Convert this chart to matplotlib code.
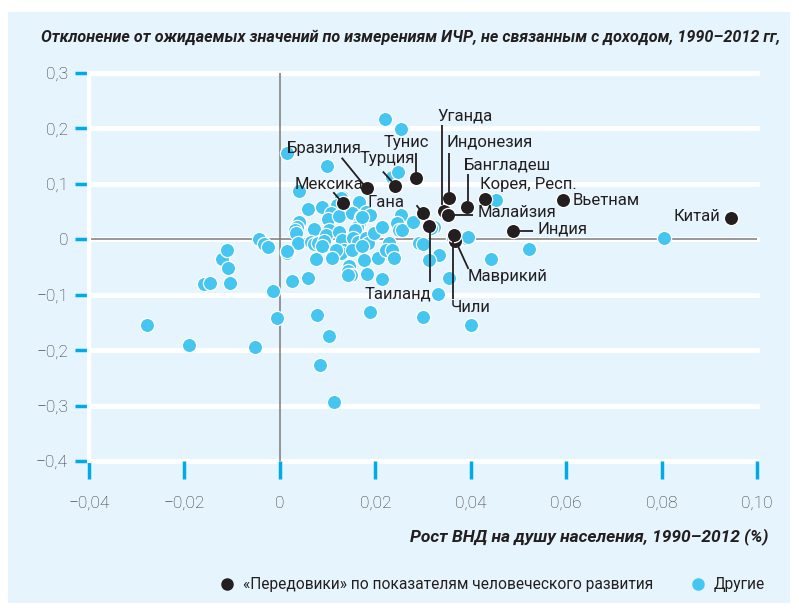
import matplotlib
matplotlib.use("Agg")
import numpy as np
import matplotlib.pyplot as plt
from matplotlib.lines import Line2D
from matplotlib.patches import Rectangle

# ---------------- data ----------------
leader_names = ["Бразилия", "Турция", "Тунис", "Мексика", "Гана", "Уганда",
                "Индонезия", "Бангладеш", "Корея, Респ.", "Малайзия", "Индия",
                "Вьетнам", "Китай", "Маврикий", "Чили", "Таиланд"]
leader_x = [0.0182, 0.0241, 0.0285, 0.0133, 0.0301, 0.0343,
            0.0355, 0.0393, 0.0429, 0.0352, 0.0489,
            0.0594, 0.0946, 0.0368, 0.0365, 0.0313]
leader_y = [0.093, 0.097, 0.110, 0.065, 0.047, 0.051,
            0.074, 0.059, 0.072, 0.044, 0.015,
            0.070, 0.039, -0.003, 0.008, 0.024]

other_x = [-0.0278, -0.0190, -0.0053, -0.0158, -0.0146, -0.0122, -0.0111, -0.0108,
           -0.0104, -0.0043, -0.0034, -0.0024, -0.0014, -0.0006, 0.0014, 0.0016,
           0.0025, 0.0040, 0.0040, 0.0035, 0.0031, 0.0033, 0.0037, 0.0016,
           0.0098, 0.0235, 0.0247, 0.0220, 0.0254, 0.0131, 0.0165, 0.0128,
           0.0119, 0.0058, 0.0088, 0.0107, 0.0100, 0.0124, 0.0152, 0.0170,
           0.0166, 0.0187, 0.0161, 0.0157, 0.0072, 0.0102, 0.0096, 0.0124,
           0.0065, 0.0072, 0.0080, 0.0093, 0.0089, 0.0130, 0.0154, 0.0164,
           0.0180, 0.0184, 0.0198, 0.0135, 0.0129, 0.0152, 0.0173, 0.0117,
           0.0075, 0.0145, 0.0142, 0.0149, 0.0177, 0.0182, 0.0205, 0.0058,
           0.0180, 0.0189, 0.0173, 0.0215, 0.0254, 0.0245, 0.0250, 0.0257,
           0.0278, 0.0229, 0.0222, 0.0236, 0.0240, 0.0292, 0.0299, 0.0334,
           0.0313, 0.0324, 0.0317, 0.0355, 0.0362, 0.0380, 0.0390, 0.0395,
           0.0443, 0.0522, 0.0805, 0.0453, 0.0077, 0.0103, 0.0084, 0.0114,
           0.0188, 0.0299, 0.0332, 0.0401, 0.0215, 0.0110, 0.0143]
other_y = [-0.154, -0.191, -0.194, -0.080, -0.078, -0.035, -0.020, -0.051,
           -0.078, 0.001, -0.008, -0.014, -0.093, -0.142, 0.156, -0.024,
           -0.075, 0.087, 0.032, 0.023, 0.017, 0.012, -0.007, -0.021,
           0.133, 0.113, 0.122, 0.217, 0.199, 0.077, 0.067, 0.074,
           0.062, 0.054, 0.058, 0.047, 0.036, 0.042, 0.047, 0.041,
           0.030, 0.044, 0.023, 0.017, 0.018, 0.017, 0.008, 0.014,
           -0.004, -0.009, -0.006, -0.003, -0.013, -0.001, 0.002, -0.004,
           0.002, -0.007, 0.011, -0.019, -0.024, -0.019, -0.013, -0.019,
           -0.036, -0.049, -0.058, -0.065, -0.038, -0.063, -0.033, -0.069,
           0.050, 0.044, 0.041, 0.023, 0.044, 0.029, 0.017, 0.017,
           0.032, -0.007, -0.019, -0.019, -0.034, -0.007, -0.008, -0.029,
           -0.038, 0.023, 0.020, -0.069, 0.003, 0.002, 0.003, 0.005,
           -0.036, -0.017, 0.003, 0.071, -0.137, -0.174, -0.226, -0.293,
           -0.131, -0.140, -0.099, -0.155, -0.071, -0.033, -0.065]

x_ticks = [-0.04, -0.02, 0, 0.02, 0.04, 0.06, 0.08, 0.10]
x_tick_labels = ["−0,04", "−0,02", "0", "0,02", "0,04", "0,06", "0,08", "0,10"]
y_ticks = [0.3, 0.2, 0.1, 0, -0.1, -0.2, -0.3, -0.4]
y_tick_labels = ["0,3", "0,2", "0,1", "0", "−0,1", "−0,2", "−0,3", "−0,4"]

title_text = "Отклонение от ожидаемых значений по измерениям ИЧР, не связанным с доходом, 1990–2012 гг,"
xlabel_text = "Рост ВНД на душу населения, 1990–2012 (%)"
legend_labels = ["«Передовики» по показателям человеческого развития", "Другие"]

# ---------------- style ----------------
FAM = ["Roboto", "DejaVu Sans"]
plt.rcParams["font.family"] = FAM

BG = "#E6F5FD"
BLUE = "#45C6F0"
BLACK = "#231F20"
TICKBLUE = "#00A9E8"
TXT = "#231F20"

# label placement in pixels relative to the point: text offset, ha, leader start, leader end
label_pos = {
    "Бразилия": (-5, 39, "right", (-25, 30), (-3, 3)),
    "Турция": (-8, 27, "center", (-12, 14), (-3, 4)),
    "Тунис": (-10, 36, "center", (0, 25), (0, 6)),
    "Мексика": (-14, 19, "center", (-10, 11), (-3, 3)),
    "Гана": (-37, 11, "center", (-7, 8), (-3, 3)),
    "Уганда": (-6, 95, "left", (-2, 86), (-2, 6)),
    "Индонезия": (-3, 56, "left", (0, 45), (0, 6)),
    "Бангладеш": (-4, 42, "left", (1, 33), (1, 6)),
    "Корея, Респ.": (-5, 15, "left", None, None),
    "Малайзия": (30, 2, "left", (5, 0), (25, 0)),
    "Индия": (24, 2, "left", (6, 0), (20, 0)),
    "Вьетнам": (9, 0, "left", None, None),
    "Китай": (-11, 1, "right", None, None),
    "Маврикий": (12, -36, "left", (2, -4), (13, -28)),
    "Чили": (-3, -73, "left", (-1, -6), (-1, -64)),
    "Таиланд": (2, -68, "right", (1, -6), (1, -56)),
}

fig = plt.figure(figsize=(7.99, 6.13), dpi=100)
fig.patch.set_facecolor("white")
bg = Rectangle((8 / 799, 1 - 603 / 613), (790 - 8) / 799, (603 - 12) / 613,
               transform=fig.transFigure, facecolor=BG, edgecolor="none", zorder=-10)
fig.patches.append(bg)

ax = fig.add_axes([89 / 799, 1 - 461 / 613, (757 - 89) / 799, (461 - 73) / 613])
ax.set_facecolor(BG)
ax.set_xlim(-0.04, 0.10)
ax.set_ylim(-0.4, 0.3)

for s in ["top", "right", "bottom"]:
    ax.spines[s].set_visible(False)
ax.spines["left"].set_color("white")
ax.spines["left"].set_linewidth(3)

for yv in y_ticks:
    ax.axhline(yv, color="white", lw=3.5, zorder=1, clip_on=False)
ax.axhline(0, color="#7A7A7A", lw=1.1, zorder=2)
ax.axvline(0, color="#7A7A7A", lw=1.1, zorder=2)

ax.set_xticks(x_ticks)
ax.set_xticklabels(x_tick_labels)
ax.set_yticks(y_ticks)
ax.set_yticklabels(y_tick_labels)
ax.tick_params(axis="y", length=10, width=2.5, color=TICKBLUE, direction="out", pad=5,
               labelsize=12.5, labelcolor="#333333")
ax.tick_params(axis="x", length=13, width=2.5, color=TICKBLUE, direction="out", pad=12,
               labelsize=12.5, labelcolor="#333333")
for lab in ax.get_xticklabels() + ax.get_yticklabels():
    lab.set_fontweight("light")

ax.scatter(other_x, other_y, s=105, color=BLUE, edgecolors="white", linewidths=0.9, zorder=3)
ax.scatter(leader_x, leader_y, s=105, color=BLACK, edgecolors="white", linewidths=0.9, zorder=4)

to_disp = ax.transData.transform
to_data = ax.transData.inverted().transform
for name, x, y in zip(leader_names, leader_x, leader_y):
    dx, dy, ha, l0, l1 = label_pos[name]
    ax.annotate(name, (x, y), xytext=(dx, dy), textcoords="offset pixels",
                ha=ha, va="center", fontsize=12, color=TXT, zorder=6)
    if l0 is not None:
        p = to_disp((x, y))
        seg = to_data(np.array([p + np.array(l0), p + np.array(l1)]))
        ax.plot(seg[:, 0], seg[:, 1], color=TXT, lw=1.3, zorder=5, solid_capstyle="butt")

fig.text(768 / 799, 1 - 537 / 613, xlabel_text, ha="right", va="center", fontsize=12.5,
         fontweight="bold", fontstyle="italic", color=TXT)

fig.text(411 / 799, 1 - 37 / 613, title_text, ha="center", va="center", fontsize=11.6,
         fontweight="bold", fontstyle="italic", color=TXT)

handles = [Line2D([], [], marker="o", ls="none", color=BLACK, markersize=8),
           Line2D([], [], marker="o", ls="none", color=BLUE, markersize=8)]
leg = fig.legend(handles, legend_labels, ncol=2, loc="center right",
                 bbox_to_anchor=(779 / 799, 1 - 585 / 613), frameon=False,
                 fontsize=11.2, handletextpad=0.5, columnspacing=2.4, handlelength=1.0)
for t in leg.get_texts():
    t.set_color(TXT)

fig.savefig("out.png", dpi=100, facecolor=fig.get_facecolor())
